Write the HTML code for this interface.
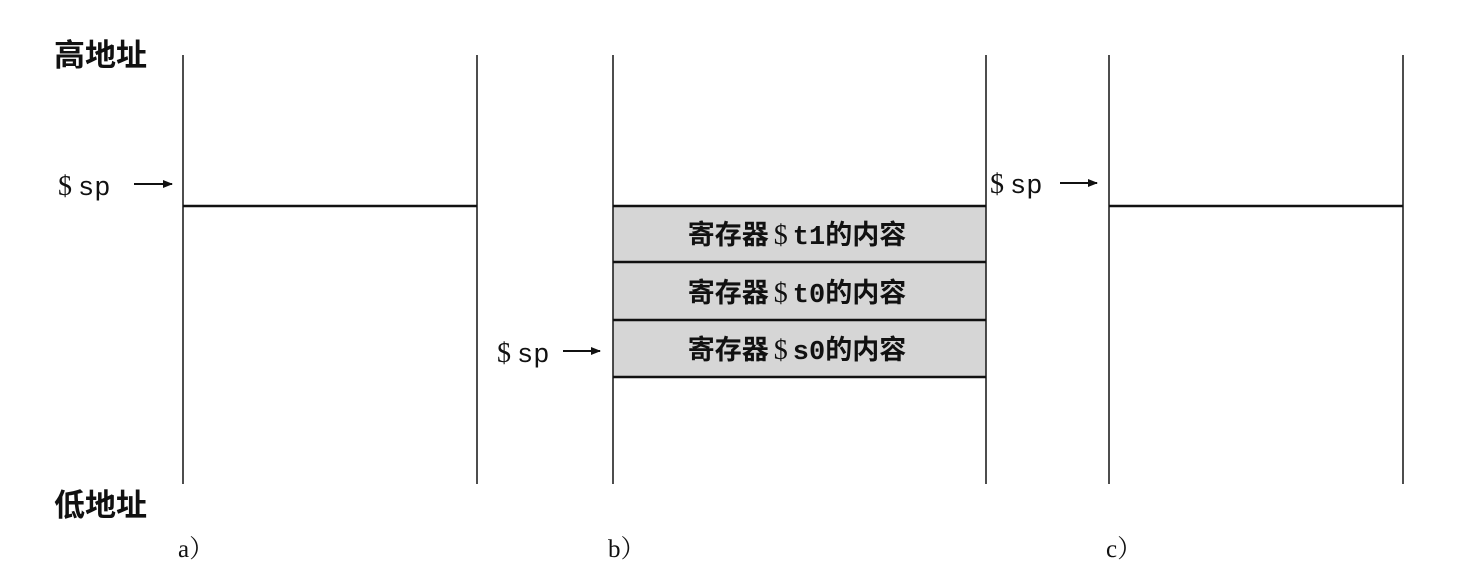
<!DOCTYPE html>
<html><head><meta charset="utf-8"><style>
html,body{margin:0;padding:0;background:#fff;}
text{font-family:"Liberation Serif","Noto Serif CJK SC",serif;fill:#111;}
.cj{font-family:"Liberation Sans","Noto Sans CJK SC",sans-serif;font-weight:bold;}
.mono{font-family:"Liberation Mono","Noto Sans CJK SC",monospace;}
</style></head><body>
<svg width="1458" height="582" xmlns="http://www.w3.org/2000/svg">
<defs><marker id="ar" markerWidth="10" markerHeight="8" refX="9" refY="4" orient="auto" markerUnits="userSpaceOnUse"><path d="M0,0 L10,4 L0,8 Z" fill="#111"/></marker></defs>
<rect x="613" y="206" width="373" height="171" fill="#d6d6d6"/>
<g stroke="#222" stroke-width="1.6">
<line x1="183" y1="55" x2="183" y2="484"/><line x1="477" y1="55" x2="477" y2="484"/>
<line x1="613" y1="55" x2="613" y2="484"/><line x1="986" y1="55" x2="986" y2="484"/>
<line x1="1109" y1="55" x2="1109" y2="484"/><line x1="1403" y1="55" x2="1403" y2="484"/>
</g>
<g stroke="#111" stroke-width="2.5">
<line x1="183" y1="206" x2="477" y2="206"/><line x1="1109" y1="206" x2="1403" y2="206"/>
<line x1="613" y1="206" x2="986" y2="206"/><line x1="613" y1="262" x2="986" y2="262"/>
<line x1="613" y1="320" x2="986" y2="320"/><line x1="613" y1="377" x2="986" y2="377"/>
</g>
<text class="cj" x="54" y="66" font-size="31">高地址</text>
<text class="cj" x="54" y="516" font-size="31">低地址</text>
<text x="178" y="557" font-size="25">a）</text>
<text x="608" y="557" font-size="25">b）</text>
<text x="1106" y="557" font-size="25">c）</text>
<text x="58" y="195" font-size="28">$<tspan class="mono" font-size="27" dx="6">sp</tspan></text>
<line x1="134" y1="184" x2="172" y2="184" stroke="#111" stroke-width="2" marker-end="url(#ar)"/>
<text x="497" y="362" font-size="28">$<tspan class="mono" font-size="27" dx="6">sp</tspan></text>
<line x1="563" y1="351" x2="600" y2="351" stroke="#111" stroke-width="2" marker-end="url(#ar)"/>
<text x="990" y="193" font-size="28">$<tspan class="mono" font-size="27" dx="6">sp</tspan></text>
<line x1="1060" y1="183" x2="1097" y2="183" stroke="#111" stroke-width="2" marker-end="url(#ar)"/>
<g text-anchor="middle">
<text x="797" y="244" class="cj" font-size="27">寄存器<tspan font-family="Liberation Serif" font-weight="normal" font-size="28" dx="5">$</tspan><tspan class="mono" font-size="27" dx="5">t1</tspan>的内容</text>
<text x="797" y="302" class="cj" font-size="27">寄存器<tspan font-family="Liberation Serif" font-weight="normal" font-size="28" dx="5">$</tspan><tspan class="mono" font-size="27" dx="5">t0</tspan>的内容</text>
<text x="797" y="359" class="cj" font-size="27">寄存器<tspan font-family="Liberation Serif" font-weight="normal" font-size="28" dx="5">$</tspan><tspan class="mono" font-size="27" dx="5">s0</tspan>的内容</text>
</g>
</svg>
</body></html>
